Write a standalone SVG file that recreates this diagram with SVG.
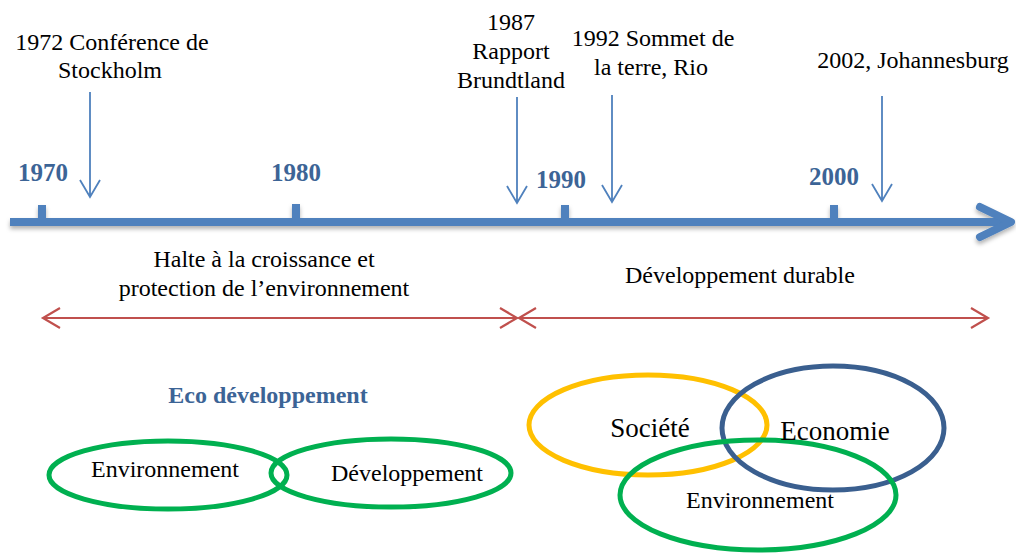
<svg xmlns="http://www.w3.org/2000/svg" width="1016" height="553" viewBox="0 0 1016 553">
<style>
.t{font-family:"Liberation Serif","Times New Roman",serif;font-size:24px;fill:#000;text-anchor:middle}
.yr{font-family:"Liberation Serif","Times New Roman",serif;font-size:25px;font-weight:bold;fill:#3c6496;text-anchor:middle}
.dn{stroke:#4f81bd;stroke-width:1.8;fill:none}
.red{stroke:#c0504d;stroke-width:2.2;fill:none}
.ell{fill:none;stroke-width:5}
</style>
<defs>
<filter id="sh" x="-5%" y="-100%" width="110%" height="300%"><feDropShadow dx="0" dy="3" stdDeviation="2" flood-color="#000" flood-opacity="0.3"/></filter>
</defs>
<g id="timeline" filter="url(#sh)">
<line x1="10" y1="222" x2="1010" y2="222" stroke="#4f81bd" stroke-width="8"/>
<polyline points="980,207 1011,222 980,237" fill="none" stroke="#4f81bd" stroke-width="8" stroke-linecap="round" stroke-linejoin="round"/>
<rect x="38" y="205" width="8" height="14" fill="#4f81bd"/>
<rect x="292" y="204" width="8" height="15" fill="#4f81bd"/>
<rect x="561" y="205" width="8" height="14" fill="#4f81bd"/>
<rect x="830" y="205" width="8" height="14" fill="#4f81bd"/>
</g>
<g id="years">
<text class="yr" x="43" y="181">1970</text>
<text class="yr" x="296" y="181">1980</text>
<text class="yr" x="561" y="188">1990</text>
<text class="yr" x="834" y="185">2000</text>
</g>
<g id="connectors">
<path class="dn" d="M90,92 V197 M80,180 L90,197 L100,180"/>
<path class="dn" d="M517,97 V203 M507,186 L517,203 L527,186"/>
<path class="dn" d="M612,95 V202 M602,185 L612,202 L622,185"/>
<path class="dn" d="M882,96 V201 M872,184 L882,201 L892,184"/>
<path class="red" d="M43,318 H517 M60,308 L43,318 L60,328 M500,308 L517,318 L500,328"/>
<path class="red" d="M519,318 H988 M536,308 L519,318 L536,328 M971,308 L988,318 L971,328"/>
</g>
<g id="ev1972"><text class="t" x="112" y="50">1972 Conférence de</text><text class="t" x="110" y="78">Stockholm</text></g>
<g id="ev1987"><text class="t" x="511" y="30">1987</text><text class="t" x="511" y="59">Rapport</text><text class="t" x="511" y="88">Brundtland</text></g>
<g id="ev1992"><text class="t" x="653" y="46">1992 Sommet de</text><text class="t" x="651" y="75">la terre, Rio</text></g>
<g id="ev2002"><text class="t" x="913" y="68">2002, Johannesburg</text></g>
<g id="period1"><text class="t" x="264" y="267">Halte à la croissance et</text><text class="t" x="264" y="296">protection de l’environnement</text></g>
<g id="period2"><text class="t" x="740" y="283">Développement durable</text></g>
<g id="eco"><text class="yr" x="268" y="403" style="font-size:24px">Eco développement</text></g>
<g id="env-left"><ellipse class="ell" cx="168" cy="475" rx="119" ry="34" stroke="#00b050"/><text class="t" x="165" y="477">Environnement</text></g>
<g id="dev-left"><ellipse class="ell" cx="391" cy="473" rx="120" ry="34" stroke="#00b050"/><text class="t" x="407" y="481">Développement</text></g>
<g id="societe"><ellipse class="ell" cx="648" cy="425" rx="119" ry="50" stroke="#ffc000"/></g>
<g id="economie"><ellipse class="ell" cx="833" cy="428" rx="111" ry="62" stroke="#3a5f8f"/></g>
<g id="env-right"><ellipse class="ell" cx="758" cy="495" rx="138" ry="55" stroke="#00b050"/></g>
<g id="labels-right">
<text class="t" x="650" y="437" style="font-size:27px">Société</text>
<text class="t" x="835" y="440" style="font-size:27px">Economie</text>
<text class="t" x="760" y="508">Environnement</text>
</g>
</svg>
